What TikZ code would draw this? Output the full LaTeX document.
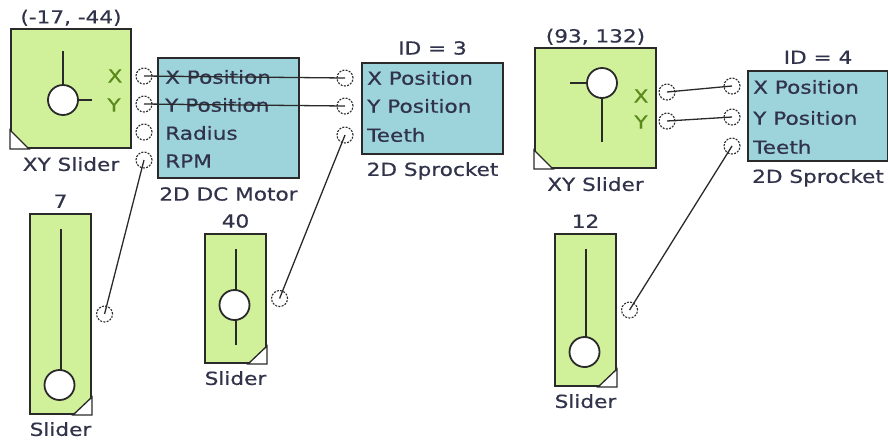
\documentclass[tikz,border=0pt]{standalone}
\usepackage{fontspec}
\setmainfont{DejaVu Sans}[FakeStretch=1.2, FakeBold=0.6]
\usetikzlibrary{positioning}
\definecolor{slidergreen}{HTML}{D0F09A}
\definecolor{blockblue}{HTML}{9DD3DA}
\definecolor{edgegrey}{HTML}{2A2A2A}
\definecolor{labelgrey}{HTML}{30334A}
\definecolor{axisgreen}{HTML}{5A8A1C}
\tikzset{
  sliderbox/.style={draw=edgegrey, line width=2pt, fill=slidergreen,
    anchor=north west, inner sep=0pt},
  blockbox/.style={sliderbox, fill=blockblue},
  knob/.style={circle, draw=edgegrey, line width=1.8pt, fill=white,
    minimum size=30pt, inner sep=0pt},
  port/.style={circle, draw=edgegrey, dash pattern=on 2pt off 1.3pt,
    line width=1.1pt, fill=white, minimum size=16pt, inner sep=0pt},
  wire/.style={draw=edgegrey, line width=1.3pt},
  rod/.style={draw=edgegrey, line width=2pt},
  corner/.style={draw=edgegrey, line width=1.3pt, fill=white},
  txt/.style={font=\fontsize{18}{21}\selectfont, text=labelgrey, inner sep=0pt},
  pinlabel/.style={txt, anchor=west},
  axislabel/.style={txt, text=axisgreen}
}

\begin{document}
\begin{tikzpicture}[x=1pt, y=-1pt]
  \useasboundingbox (0,0) rectangle (888,440);

  % xy sliders
  \node[sliderbox, minimum width=120pt, minimum height=119pt] (xya) at (10,28) {};
  \node[sliderbox, minimum width=121pt, minimum height=120pt] (xyb) at (534,47) {};
  \draw[rod] (63,51) -- (63,100) -- (92,100);
  \draw[rod] (570,83) -- (602,83) -- (602,142);
  \node[knob] (xya-knob) at (63,100) {};
  \node[knob] (xyb-knob) at (602,83) {};
  \filldraw[corner] (xya.south west) -- ++(0,-19) -- ++(19,19) -- cycle;
  \filldraw[corner] (xyb.south west) -- ++(0,-19) -- ++(19,19) -- cycle;
  \node[txt, above=2pt of xya] (xya-val) {(-17, -44)};
  \node[txt, above=2pt of xyb] (xyb-val) {(93, 132)};
  \node[txt, below=8pt of xya] (xya-name) {XY Slider};
  \node[txt, below=8pt of xyb] (xyb-name) {XY Slider};
  \node[axislabel] (xya-xl) at (115,76) {X};
  \node[axislabel] (xya-yl) at (114,105) {Y};
  \node[axislabel] (xyb-xl) at (641,96) {X};
  \node[axislabel] (xyb-yl) at (641,122) {Y};
  \node[port] (xyb-x) at (667,92) {};
  \node[port] (xyb-y) at (667,121) {};

  % motor and sprockets
  \node[blockbox, minimum width=141pt, minimum height=120pt] (mt) at (157,57) {};
  \node[blockbox, minimum width=141pt, minimum height=91pt] (ska) at (361,62) {};
  \node[blockbox, minimum width=140pt, minimum height=90pt] (skb) at (747,70) {};
  \node[txt, below=8pt of mt] (mt-name) {2D DC Motor};
  \node[txt, above=7pt of ska] (ska-val) {ID = 3};
  \node[txt, above=6pt of skb] (skb-val) {ID = 4};
  \node[txt, below=7pt of ska] (ska-name) {2D Sprocket};
  \node[txt, below=7pt of skb] (skb-name) {2D Sprocket};

  \foreach \yy/\id/\tx in {76/x/X Position, 104/y/Y Position, 132/r/Radius, 160/rpm/RPM} {
    \node[port] (mt-\id) at (144,\yy) {};
    \node[pinlabel] (mt-\id-lab) at (165,\yy+1) {\tx};
  }
  \foreach \yy/\id/\tx in {78/x/X Position, 106/y/Y Position, 135/teeth/Teeth} {
    \node[port] (ska-\id) at (345,\yy) {};
    \node[pinlabel] (ska-\id-lab) at (367,\yy) {\tx};
  }
  \foreach \yy/\id/\tx in {86/x/X Position, 117/y/Y Position, 146/teeth/Teeth} {
    \node[port] (skb-\id) at (732,\yy) {};
    \node[pinlabel] (skb-\id-lab) at (753,\yy+1) {\tx};
  }

  % single sliders
  \foreach \nm/\lx/\ty/\by/\ky/\val in {sla/29/213/413/385/7, slb/204/233/362/305/40, slc/554/233/385/352/12} {
    \pgfmathsetmacro\hh{\by-\ty}
    \node[sliderbox, minimum width=61pt, minimum height=\hh pt] (\nm) at (\lx,\ty) {};
    \draw[rod] ([yshift=-16pt]\nm.north) -- ([yshift=19pt]\nm.south);
    \node[knob] (\nm-knob) at (\lx+30.5,\ky) {};
    \filldraw[corner] (\nm.south east) -- ++(0,-18) -- ++(-19,18) -- cycle;
    \node[txt, above=5pt of \nm] (\nm-val) {\val};
    \node[txt, below=7pt of \nm] (\nm-name) {Slider};
    \node[port, right=4pt of \nm] (\nm-out) {};
  }

  % wires
  \foreach \a/\b in {mt-x/ska-x, mt-y/ska-y, xyb-x/skb-x, xyb-y/skb-y,
      sla-out/mt-rpm, slb-out/ska-teeth, slc-out/skb-teeth}
    \draw[wire] (\a.center) -- (\b.center);
\end{tikzpicture}
\end{document}
